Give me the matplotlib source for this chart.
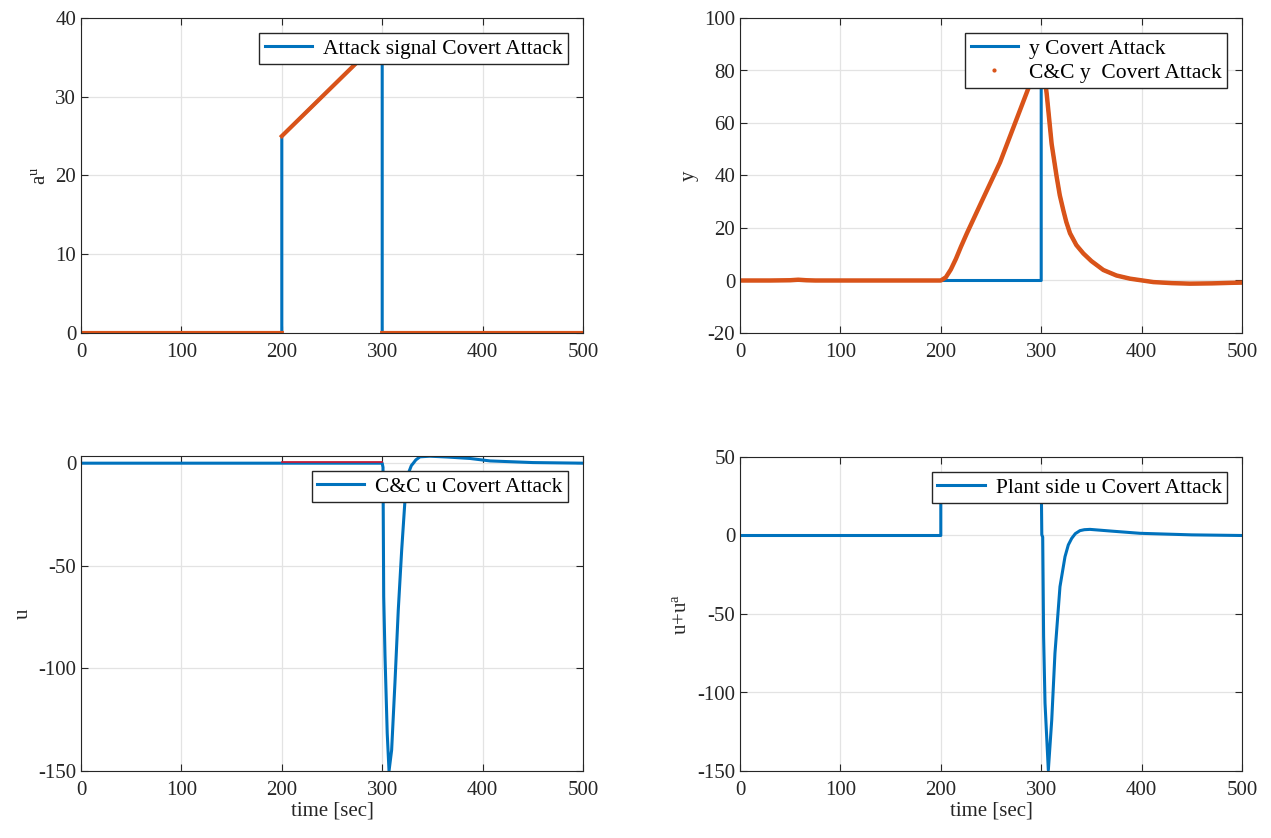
import matplotlib
matplotlib.use("Agg")
import matplotlib.pyplot as plt
from matplotlib.lines import Line2D
import numpy as np

plt.rcParams["font.family"] = ["Liberation Serif", "DejaVu Serif"]
plt.rcParams["mathtext.fontset"] = "custom"
plt.rcParams["mathtext.rm"] = "Liberation Serif"
plt.rcParams["mathtext.it"] = "Liberation Serif"
plt.rcParams["font.size"] = 15
plt.rcParams["axes.unicode_minus"] = False

blue = "#0072BD"
orange = "#D95319"
red = "#D2142D"
dark = "#262626"

# attack signal injected on the input channel
t_att = [0, 200, 200, 300, 300, 500]
a_att = [0, 0, 25, 37.5, 0, 0]

# plant output and the output seen by C&C
t_y = [0, 30, 50, 58, 66, 75, 100, 150, 200, 205, 210, 215, 220, 226, 240,
       259, 275, 289, 300, 302, 305.5, 310.4, 315.4, 318.5, 322, 325,
       328.7, 335, 342, 350, 361.9, 375, 388.4, 411.7, 430, 448, 470,
       488, 500]
y_plant = [0, 0, 0.1, 0.3, 0.1, 0, 0, 0, 0, 1.2, 4.2, 8.2, 12.8, 18, 29.5,
           45, 61, 75, 87, 82, 71, 52, 39.5, 32.5, 26.8, 22.3,
           18, 13.5, 10.3, 7.4, 4.0, 1.9, 0.7, -0.6, -1.0, -1.2, -1.1,
           -0.9, -0.8]
t_ycc = [0, 300, 300, 302, 305.5, 310.4, 315.4, 318.5, 322, 325, 328.7,
         335, 342, 350, 361.9, 375, 388.4, 411.7, 430, 448, 470, 488, 500]
y_cc = [0, 0, 87, 82, 71, 52, 39.5, 32.5, 26.8, 22.3, 18,
        13.5, 10.3, 7.4, 4.0, 1.9, 0.7, -0.6, -1.0, -1.2, -1.1, -0.9, -0.8]

# control input computed by C&C
t_u = [0, 100, 200, 300, 300.8, 301.5, 302.8, 305, 306.8, 309.4, 312.7,
       316, 319.4, 322.7, 326, 329, 331, 333.5, 337.6, 347.6, 365, 387.5,
       407.4, 450, 500]
u_cc = [0, 0, 0, 0, -2, -65, -94, -131.6, -150, -139.8, -107,
        -71.6, -42.4, -18, -5, -1.2, 0, 1.6, 3.1, 3.4, 3.0, 2.3,
        1.1, 0.3, 0]
t_u_ref = [200, 300]
u_ref = [0.5, 0.5]

# input reaching the plant (u + u^a)
t_ua = [0, 200, 200, 300, 300.6, 301.5, 302.4, 303.8, 307.1, 310.5, 313.7,
        318.7, 323.7, 327, 330.4, 334, 338.6, 343, 348.6, 370, 398.4,
        450, 500]
u_plant = [0, 0, 25, 37.5, 0.5, -1, -64.5, -106.7, -149.5, -117.5, -75,
           -32.6, -13.5, -6.0, -1.8, 1.2, 3.1, 3.7, 3.9, 2.8, 1.4,
           0.4, 0]


def split_jumps(t, v):
    # break the trace wherever the time value repeats
    tt, vv = [t[0]], [v[0]]
    for i in range(1, len(t)):
        if t[i] == t[i - 1]:
            tt.append(np.nan)
            vv.append(np.nan)
        tt.append(t[i])
        vv.append(v[i])
    return tt, vv


def style(ax, yticks, ylim):
    ax.set_xlim(0, 500)
    ax.set_xticks(np.arange(0, 501, 100))
    ax.set_ylim(*ylim)
    ax.set_yticks(yticks)
    ax.grid(True, color="#e3e3e3", lw=0.9)
    ax.set_axisbelow(True)
    ax.tick_params(direction="in", top=True, right=True, length=5,
                   colors=dark, labelsize=15, width=0.8)
    ax.tick_params(axis="x", pad=7)
    for s in ax.spines.values():
        s.set_color(dark)
        s.set_linewidth(0.8)


fig = plt.figure(figsize=(12.71, 8.38), dpi=100)
W, H = 1271, 838
pos = lambda l, t, r, b: [l / W, 1 - b / H, (r - l) / W, (b - t) / H]

ax1 = fig.add_axes(pos(81, 18, 583, 333))
ax2 = fig.add_axes(pos(740, 18, 1242, 333))
ax3 = fig.add_axes(pos(81, 456, 583, 771))
ax4 = fig.add_axes(pos(740, 457, 1242, 771))

leg_kw = dict(loc="upper right", fancybox=False, edgecolor=dark,
              framealpha=1, borderaxespad=0.7, handlelength=2.2,
              borderpad=0.25, labelspacing=0.2, handletextpad=0.5,
              fontsize=15.5)

# attack signal
ax1.plot(t_att, a_att, color=blue, lw=2.2, label="Attack signal Covert Attack")
ta, aa = split_jumps(t_att, a_att)
ax1.plot(ta, aa, color=orange, lw=3)
style(ax1, np.arange(0, 41, 10), (0, 40))
ax1.set_ylabel(r"$\mathrm{a^u}$", color=dark)
ax1.legend(**leg_kw)

# outputs
ax2.plot(t_ycc, y_cc, color=blue, lw=2.2)
ax2.plot(t_y, y_plant, color=orange, lw=3.2)
style(ax2, np.arange(-20, 101, 20), (-20, 100))
ax2.set_ylabel("y", color=dark)
h2 = [Line2D([], [], color=blue, lw=2.2),
      Line2D([], [], color=orange, marker=".", ls="none", ms=4)]
ax2.legend(h2, ["y Covert Attack", "C&C y  Covert Attack"], **leg_kw)

# C&C control input
ax3.plot(t_u_ref, u_ref, color=red, lw=1.2, zorder=3)
ax3.plot(t_u, u_cc, color=blue, lw=2.2, label="C&C u Covert Attack", zorder=2)
style(ax3, np.arange(-150, 1, 50), (-150, 3.5))
ax3.set_ylabel("u", color=dark)
ax3.set_xlabel("time [sec]", color=dark, labelpad=1)
ax3.legend(**leg_kw)

# plant side input
ax4.plot(t_ua, u_plant, color=blue, lw=2.2, label="Plant side u Covert Attack")
style(ax4, np.arange(-150, 51, 50), (-150, 50))
ax4.set_ylabel(r"$\mathrm{u{+}u^a}$", color=dark)
ax4.set_xlabel("time [sec]", color=dark, labelpad=1)
ax4.legend(**leg_kw)

fig.savefig("out.png", dpi=100)
